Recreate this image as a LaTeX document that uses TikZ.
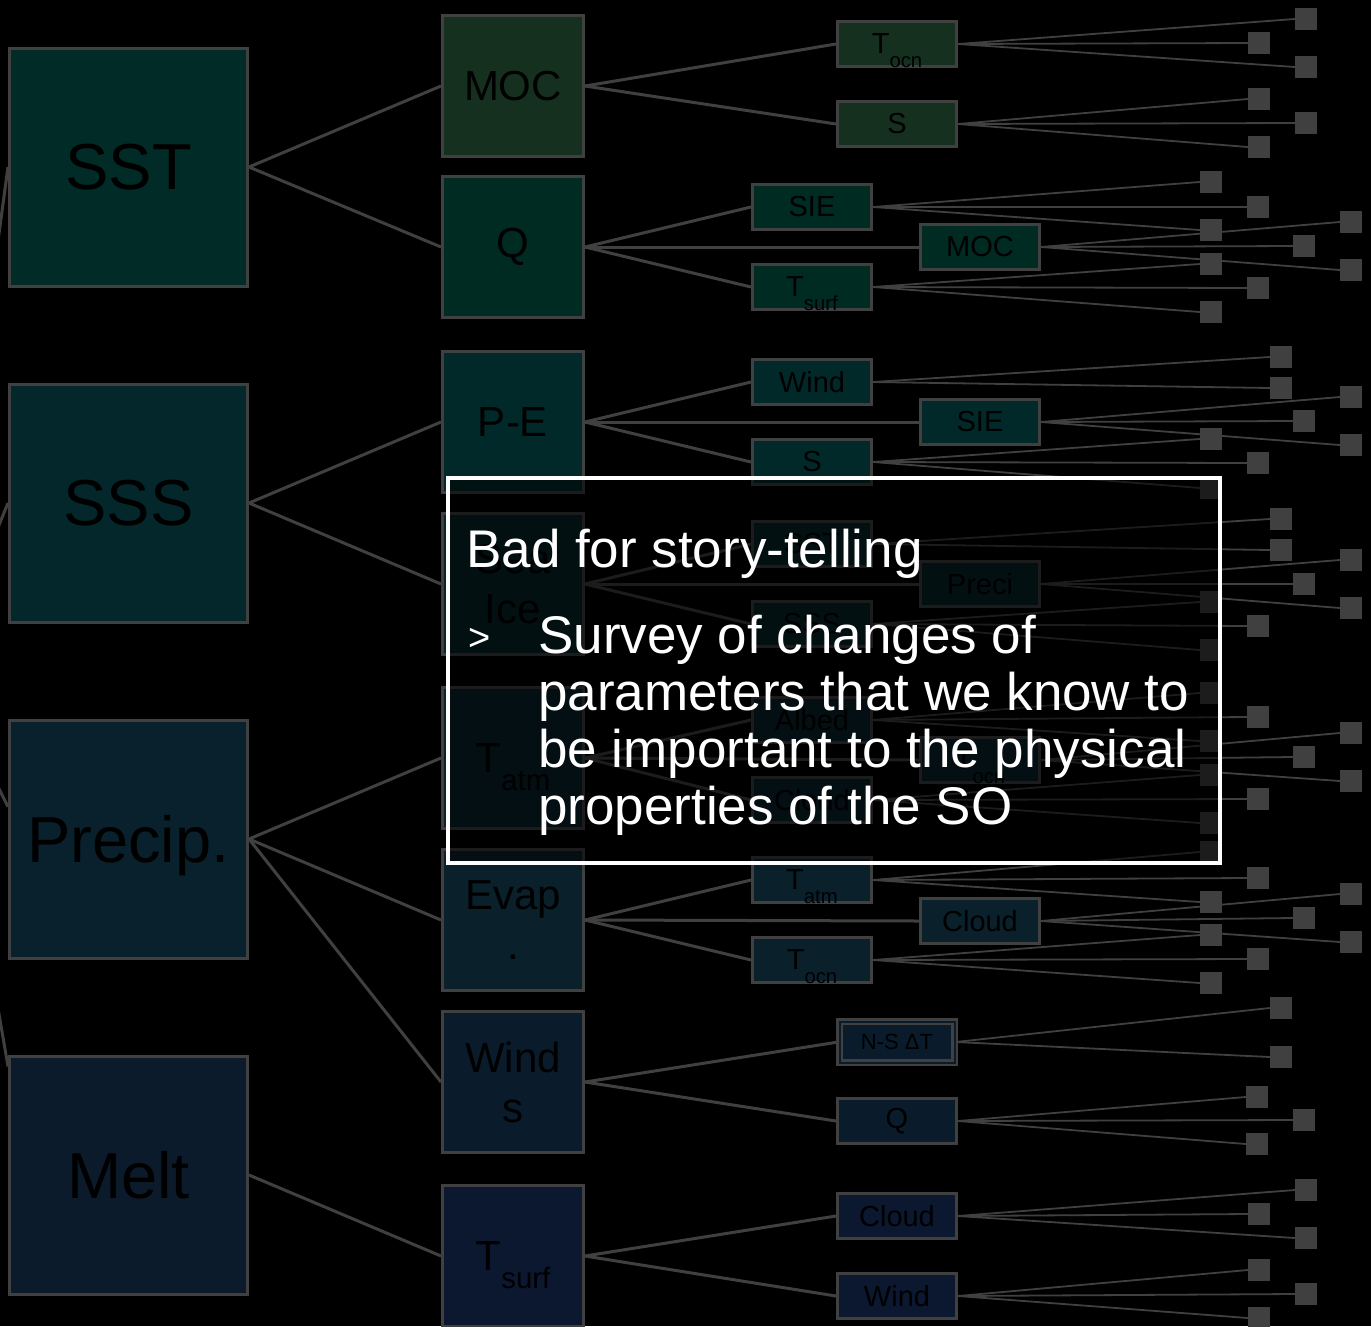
\documentclass[tikz,border=0pt]{standalone}
\usepackage{fontspec}
\setmainfont{Liberation Sans}

\definecolor{edgegray}{HTML}{404040}
\definecolor{sstc}{HTML}{012B26}
\definecolor{sssc}{HTML}{03272B}
\definecolor{precc}{HTML}{09212C}
\definecolor{meltc}{HTML}{0B1B2B}
\definecolor{mocc}{HTML}{16301F}
\definecolor{qc}{HTML}{002B22}
\definecolor{pec}{HTML}{02292A}
\definecolor{icec}{HTML}{08242A}
\definecolor{tatmc}{HTML}{09222B}
\definecolor{evapc}{HTML}{0A202B}
\definecolor{windc}{HTML}{0A1C2C}
\definecolor{tsurfc}{HTML}{0C1730}

\pgfdeclarelayer{back}
\pgfsetlayers{back,main}

\newcommand{\lowsub}[2]{\raisebox{#1}[0pt][0pt]{\scalebox{0.7}{#2}}}

\begin{document}
\begin{tikzpicture}[x=1pt,y=-1pt,
  big node/.style={draw=edgegray,line width=3pt,minimum size=238pt,inner sep=0pt,text=black,text depth=0pt,font=\fontsize{65}{70}\selectfont},
  mid node/.style={draw=edgegray,line width=3pt,minimum size=141pt,inner sep=0pt,text=black,align=center,font=\fontsize{42}{50}\selectfont},
  small node/.style={draw=edgegray,line width=3pt,minimum width=119pt,minimum height=45pt,inner sep=0pt,text=black,font=\fontsize{29}{34}\selectfont},
  leaf node/.style={fill=edgegray,minimum size=22pt,inner sep=0pt},
  link/.style={draw=edgegray,line width=3pt},
  twig/.style={draw=edgegray,line width=1.8pt},
  note text/.style={text=white,anchor=base west,inner sep=0pt,font=\fontsize{53}{57}\selectfont}]

    \useasboundingbox (0,0) rectangle (1371,1326);
    \begin{pgfonlayer}{back}
      \fill[black] (0,0) rectangle (1371,1326);
    \end{pgfonlayer}

    \coordinate (0) at (-60,670);

    \node[big node, fill=sstc] (1) at (128.5,167) {SST};
    \node[big node, fill=sssc] (2) at (128.5,503) {SSS};
    \node[big node, fill=precc] (3) at (128.5,839) {Precip.};
    \node[big node, fill=meltc] (4) at (128.5,1175) {Melt};

    \node[mid node, fill=mocc] (11) at (513,86) {MOC};
    \node[mid node, fill=qc] (12) at (513,247) {Q};
    \node[mid node, fill=pec] (21) at (513,422) {P-E};
    \node[mid node, fill=icec] (22) at (513,584) {Sea\\Ice};
    \node[mid node, fill=tatmc] (31) at (513,758) {T\lowsub{-0.42em}{atm}};
    \node[mid node, fill=evapc] (32) at (513,920) {Evap\\.};
    \node[mid node, fill=windc] (33) at (513,1082) {Wind\\s};
    \node[mid node, fill=tsurfc] (41) at (513,1256) {T\lowsub{-0.42em}{surf}};

    \node[small node, fill=mocc] (111) at (897,44) {T\lowsub{-0.48em}{ocn}};
    \node[small node, fill=mocc] (112) at (897,124) {S};
    \node[small node, fill=qc] (121) at (812,207) {SIE};
    \node[small node, fill=qc] (122) at (980,247) {MOC};
    \node[small node, fill=qc] (123) at (812,287) {T\lowsub{-0.48em}{surf}};
    \node[small node, fill=pec] (211) at (812,382) {Wind};
    \node[small node, fill=pec] (212) at (980,422) {SIE};
    \node[small node, fill=pec] (213) at (812,462) {S};
    \node[small node, fill=icec] (221) at (812,544) {SST};
    \node[small node, fill=icec] (222) at (980,584) {Preci};
    \node[small node, fill=icec] (223) at (812,624) {SSS};
    \node[small node, fill=tatmc] (311) at (812,720) {Albed};
    \node[small node, fill=tatmc] (312) at (980,760) {T\lowsub{-0.48em}{ocn}};
    \node[small node, fill=tatmc] (313) at (812,800) {Cloud};
    \node[small node, fill=evapc] (321) at (812,880) {T\lowsub{-0.48em}{atm}};
    \node[small node, fill=evapc] (322) at (980,921) {Cloud};
    \node[small node, fill=evapc] (323) at (812,960) {T\lowsub{-0.48em}{ocn}};
    \node[small node, fill=windc, line width=2.5pt, double=windc, double distance=2pt,
      minimum width=115pt, minimum height=41pt, font=\fontsize{22}{26}\selectfont] (331) at (897,1042) {N-S ΔT};
    \node[small node, fill=windc] (332) at (897,1121) {Q};
    \node[small node, fill=tsurfc] (411) at (897,1216) {Cloud};
    \node[small node, fill=tsurfc] (412) at (897,1296) {Wind};

    \begin{pgfonlayer}{back}
    \path (0) edge [link] (1.west);
    \path (0) edge [link] (2.west);
    \path (0) edge [link] (3.165);
    \path (0) edge [link] (4.138);

    \path (1.east) edge [link] (11.west);
    \path (1.east) edge [link] (12.west);
    \path (2.east) edge [link] (21.west);
    \path (2.east) edge [link] (22.west);
    \path (3.east) edge [link] (31.west);
    \path (3.east) edge [link] (32.west);
    \path (3.east) edge [link] (33.west);
    \path (4.east) edge [link] (41.west);

    \path (11.east) edge [link] (111.west);
    \path (11.east) edge [link] (112.west);
    \path (12.east) edge [link] (121.west);
    \path (12.east) edge [link] (122.west);
    \path (12.east) edge [link] (123.west);
    \path (21.east) edge [link] (211.west);
    \path (21.east) edge [link] (212.west);
    \path (21.east) edge [link] (213.west);
    \path (22.east) edge [link] (221.west);
    \path (22.east) edge [link] (222.west);
    \path (22.east) edge [link] (223.west);
    \path (31.east) edge [link] (311.west);
    \path (31.east) edge [link] (312.west);
    \path (31.east) edge [link] (313.west);
    \path (32.east) edge [link] (321.west);
    \path (32.east) edge [link] (322.west);
    \path (32.east) edge [link] (323.west);
    \path (33.east) edge [link] (331.west);
    \path (33.east) edge [link] (332.west);
    \path (41.east) edge [link] (411.west);
    \path (41.east) edge [link] (412.west);
    \end{pgfonlayer}

    \foreach \p/\x/\y [count=\i] in {
        111/1306/19, 111/1259/43, 111/1306/67,
        112/1259/99, 112/1306/123, 112/1259/147,
        121/1211/182, 121/1258/207, 121/1211/230,
        122/1351/222, 122/1304/246, 122/1351/270,
        123/1211/264, 123/1258/288, 123/1211/312,
        211/1281/357, 211/1281/388,
        212/1351/397, 212/1304/421, 212/1351/445,
        213/1211/439, 213/1258/463, 213/1211/488,
        221/1281/519, 221/1281/550,
        222/1351/560, 222/1304/584, 222/1351/608,
        223/1211/602, 223/1258/626, 223/1211/650,
        311/1211/693, 311/1258/717, 311/1211/741,
        312/1351/733, 312/1304/757, 312/1351/781,
        313/1211/775, 313/1258/799, 313/1211/823,
        321/1211/852, 321/1258/878, 321/1211/902,
        322/1351/894, 322/1304/918, 322/1351/942,
        323/1211/935, 323/1258/959, 323/1211/983,
        331/1281/1008, 331/1281/1057,
        332/1257/1097, 332/1304/1120, 332/1257/1144,
        411/1306/1190, 411/1259/1214, 411/1306/1238,
        412/1259/1270, 412/1306/1294, 412/1259/1318} {
      \node[leaf node] (l\i) at (\x,\y) {};
      \begin{pgfonlayer}{back}
        \path (\p.east) edge [twig] (l\i.west);
      \end{pgfonlayer}
    }

    \node[draw=white, line width=4pt, fill=black, fill opacity=0.55,
      minimum width=772pt, minimum height=385pt] (note) at (834,670.5) {};
    \node[note text] (title) at (466,567) {Bad for story-telling};
    \node[note text, font=\fontsize{38}{42}\selectfont] (mark) at (468,650) {>};
    \node[note text] (line1) at (538,653) {Survey of changes of};
    \node[note text] (line2) at (538,710) {parameters that we know to};
    \node[note text] (line3) at (538,767) {be important to the physical};
    \node[note text] (line4) at (538,824) {properties of the SO};

\end{tikzpicture}
\end{document}
